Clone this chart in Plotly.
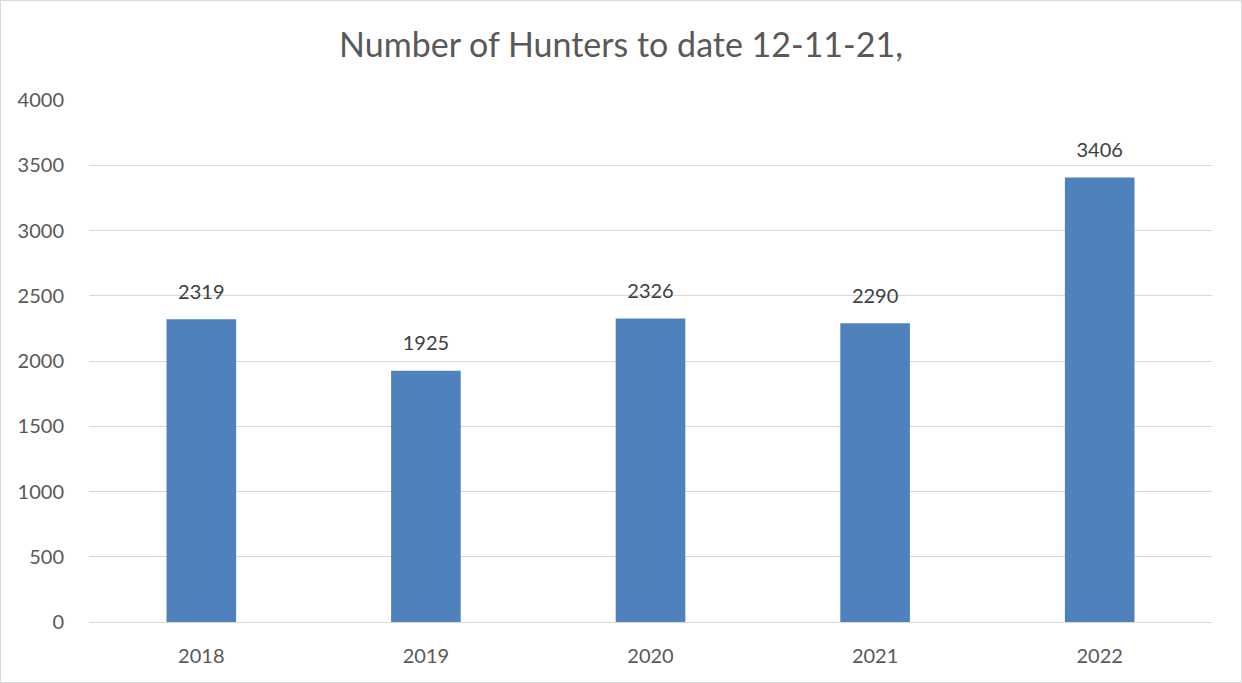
import plotly.graph_objects as go

years = ["2018", "2019", "2020", "2021", "2022"]
hunters = [2319, 1925, 2326, 2290, 3406]

W, H = 1242, 683
L, R, T, B = 89, 30, 100, 61
FONT = "Lato, Open Sans, sans-serif"

fig = go.Figure()
fig.add_trace(go.Bar(
    x=years, y=hunters,
    marker=dict(color="#4F81BD", line=dict(width=0)),
    hoverinfo="skip",
))
fig.add_trace(go.Scatter(
    x=years, y=hunters, mode="markers+text",
    text=[str(v) for v in hunters], textposition="top center",
    marker=dict(size=23, opacity=0, color="white"),
    textfont=dict(family=FONT, size=20, color="#404040"),
    cliponaxis=False, hoverinfo="skip",
))

fig.update_layout(
    width=W, height=H,
    margin=dict(l=L, r=R, t=T, b=B),
    paper_bgcolor="white", plot_bgcolor="white",
    title=dict(text="Number of Hunters to date 12-11-21,", x=0.5, xanchor="center", y=1 - 45 / H, yanchor="middle",
               font=dict(family=FONT, size=34, color="#595959")),
    font=dict(family=FONT, size=20, color="#595959"),
    xaxis=dict(showgrid=False, showline=True, linecolor="#D9D9D9", linewidth=1,
               ticks="outside", ticklen=16, tickcolor="rgba(255,255,255,0)",
               tickfont=dict(size=20, color="#595959")),
    yaxis=dict(range=[0, 4000], dtick=500, showgrid=True, gridcolor="#D9D9D9", gridwidth=1, zeroline=False,
               ticks="outside", ticklen=20, tickcolor="rgba(255,255,255,0)",
               tickfont=dict(size=20, color="#595959")),
    bargap=0.69, showlegend=False,
)
fig.write_html(
    "out.html",
    config={"displayModeBar": False},
    post_script="document.body.style.margin='0px';"
                "var b=document.createElement('div');"
                "b.style.cssText='position:fixed;left:0;top:0;width:1242px;height:683px;"
                "border:1px solid #D9D9D9;box-sizing:border-box;pointer-events:none;z-index:1000;';"
                "document.body.appendChild(b);",
)
